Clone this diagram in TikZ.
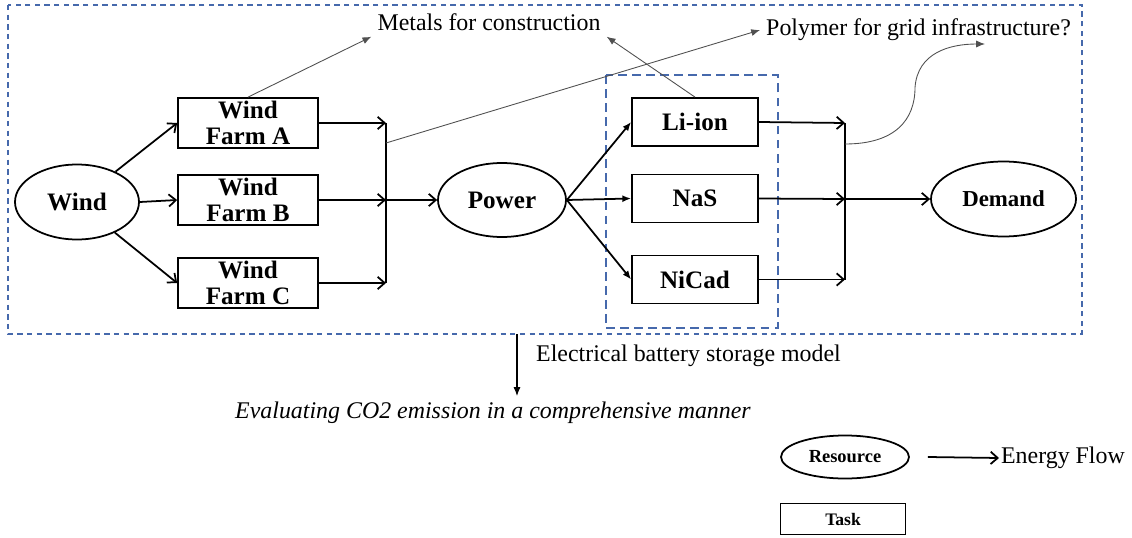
\documentclass[tikz,border=0pt]{standalone}
\usepackage{fontspec}
\setmainfont{Liberation Serif}
\usetikzlibrary{arrows.meta,positioning,shapes.geometric}
\definecolor{grpblue}{RGB}{70,105,172}
\definecolor{notegray}{RGB}{80,80,80}

\begin{document}
\begin{tikzpicture}[
        res/.style={ellipse, draw, line width=1pt, inner sep=0pt,
                    font=\fontsize{14.3}{15}\selectfont\bfseries},
        task/.style={rectangle, draw, line width=1pt, inner sep=0pt,
                     minimum width=2.8cm, minimum height=1cm, align=center,
                     font=\fontsize{14.3}{14.6}\selectfont\bfseries},
        grp/.style={draw=grpblue, line width=0.8pt, dash pattern=on 3pt off 2.5pt},
        flow/.style={-{Straight Barb[length=4pt,width=7pt]}, line width=1pt},
        pflow/.style={-{Latex[length=5pt,width=4pt]}, line width=1pt},
        note/.style={-{Latex[length=5pt,width=4pt]}, notegray, line width=0.5pt},
        lbl/.style={font=\fontsize{13.6}{16}\selectfont}
      ]
        \useasboundingbox (0,0) rectangle (22.64,-10.74);

        % dashed groups
        \draw[grp] (0.16,-0.10) rectangle (21.64,-6.68);
        \draw[grp, dash pattern=on 5pt off 3pt] (12.12,-1.50) rectangle (15.56,-6.56);

        \node[res, minimum width=2.48cm, minimum height=1.5cm]  (wind)  at (1.54,-4.04) {Wind};
        \node[task] (wfa) at (4.96,-2.46) {Wind\\Farm A};
        \node[task] (wfb) at (4.96,-4.00) {Wind\\Farm B};
        \node[task] (wfc) at (4.96,-5.66) {Wind\\Farm C};
        \node[res, minimum width=2.56cm, minimum height=1.48cm] (power) at (10.04,-4.00) {Power};
        \node[task, minimum width=2.52cm, minimum height=0.96cm] (liion) at (13.9,-2.44) {Li-ion};
        \node[task, minimum width=2.52cm, minimum height=0.96cm] (nas)   at (13.9,-3.97) {NaS};
        \node[task, minimum width=2.52cm, minimum height=0.96cm] (nicad) at (13.9,-5.59) {NiCad};
        \node[res, minimum width=2.9cm, minimum height=1.5cm,
              font=\fontsize{13}{15}\selectfont\bfseries] (demand) at (20.07,-3.98) {Demand};

        % junctions
        \coordinate (ja) at (7.72,-2.46);
        \coordinate (jb) at (7.72,-4.00);
        \coordinate (jc) at (7.72,-5.66);
        \coordinate (jp) at (7.72,-2.86);
        \coordinate (ka) at (16.9,-2.46);
        \coordinate (kb) at (16.9,-3.98);
        \coordinate (kc) at (16.9,-5.59);
        \coordinate (kq) at (16.9,-2.88);

        \draw[flow] (wind) -- (wfa.west);
        \draw[flow] (wind.east) -- (wfb.west);
        \draw[flow] (wind) -- (wfc.west);
        \draw[flow] (wfa.east) -- (ja);
        \draw[flow] (wfb.east) -- (jb);
        \draw[flow] (wfc.east) -- (jc);
        \draw[line width=1pt] (ja) -- (jc);
        \draw[flow] (jb) -- (power.west);

        \draw[pflow] (power.east) -- (liion.west);
        \draw[pflow] (power.east) -- (nas.west);
        \draw[pflow] (power.east) -- (nicad.west);
        \draw[flow] (liion.east) -- (ka);
        \draw[flow] (nas.east) -- (kb);
        \draw[flow] (nicad.east) -- (kc);
        \draw[line width=1pt] (ka) -- (kc);
        \draw[flow] (kb) -- (demand.west);

        % material side flows
        \node[lbl] (metals) at (9.78,-0.44) {Metals for construction};
        \node[lbl, anchor=west] (polymer) at (15.2,-0.6) {Polymer for grid infrastructure?};
        \coordinate (qe) at (19.7,-0.88);
        \draw[note] (wfa.north) -- (metals.south west);
        \draw[note] (liion.north) -- (metals.south east);
        \draw[note] (jp) -- (polymer.west);
        \draw[note] (kq) .. controls (17.9,-2.88) and (18.3,-2.4) .. (18.3,-1.75)
                         .. controls (18.35,-1.05) and (19.0,-0.88) .. (qe);

        % model output
        \coordinate (dn) at (10.34,-6.68);
        \node[lbl, anchor=west] (model) at (10.6,-7.12) {Electrical battery storage model};
        \node[lbl, font=\fontsize{13.6}{16}\selectfont\itshape] (evalco) at (9.86,-8.26)
              {Evaluating CO2 emission in a comprehensive manner};
        \draw[-{Latex[length=5pt,width=4pt]}, line width=0.6pt] (dn) -- (dn |- evalco.north);

        % legend
        \node[res, minimum width=2.56cm, minimum height=0.86cm,
              font=\fontsize{10.5}{12}\selectfont\bfseries] (legres) at (16.9,-9.14) {Resource};
        \node[task, minimum width=2.5cm, minimum height=0.62cm,
              font=\fontsize{10}{12}\selectfont\bfseries] (legtask) at (16.86,-10.38) {Task};
        \node[lbl, anchor=west, inner sep=1pt] (legflow) at (19.98,-9.16) {Energy Flow};
        \draw[flow] ([xshift=0.36cm]legres.east) -- (legflow.west);
      \end{tikzpicture}
\end{document}
